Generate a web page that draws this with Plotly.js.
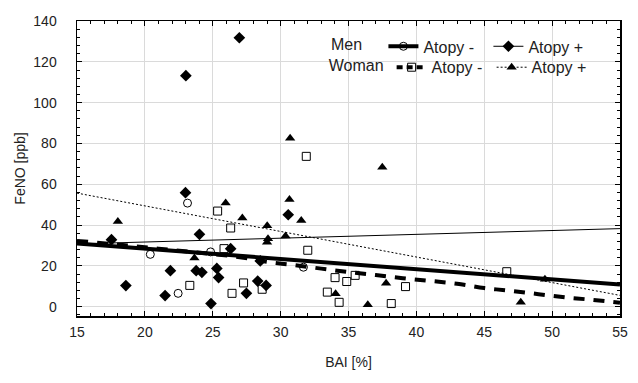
<!DOCTYPE html>
<html>
<head>
<meta charset="utf-8">
<script src="https://cdn.plot.ly/plotly-3.0.1.min.js"></script>
<style>html,body{margin:0;padding:0;background:#fff;}#chart{width:638px;height:383px;}</style>
</head>
<body>
<div id="chart"></div>
<script>
// Men, Atopy + (filled diamonds)
const menPlusBAI  = [26.96, 23.02, 22.99, 24.02, 17.54, 21.88, 23.78, 24.20, 18.60, 21.49, 24.87, 25.30, 25.43, 30.56, 26.32, 28.50, 28.31, 28.93, 27.48];
const menPlusFeNO = [131.8, 113.2, 55.9, 35.5, 32.9, 17.7, 17.7, 16.9, 10.4, 5.5, 1.6, 18.8, 14.3, 45.1, 28.5, 22.5, 12.6, 10.5, 6.6];
// Men, Atopy - (open circles)
const menMinusBAI  = [23.14, 20.40, 24.84, 22.45, 31.68];
const menMinusFeNO = [50.8, 25.7, 26.9, 6.6, 19.4];
// Women, Atopy - (open squares)
const womenMinusBAI  = [25.36, 26.32, 25.83, 32.00, 31.89, 23.31, 27.27, 28.64, 26.42, 34.01, 34.87, 35.49, 33.44, 34.31, 39.20, 38.15, 46.66];
const womenMinusFeNO = [46.9, 38.6, 28.5, 27.7, 73.7, 10.5, 11.7, 8.6, 6.6, 14.3, 12.4, 15.4, 7.2, 2.2, 9.9, 1.6, 17.2];
// Women, Atopy + (filled triangles)
const womenPlusBAI  = [18.01, 23.65, 25.95, 27.18, 30.70, 30.65, 31.52, 29.01, 29.07, 29.00, 30.36, 34.05, 37.49, 36.42, 37.77, 47.69, 49.47];
const womenPlusFeNO = [41.8, 23.9, 50.8, 43.5, 82.6, 52.6, 42.3, 39.7, 33.4, 31.6, 34.7, 6.4, 68.4, 1.0, 11.5, 2.2, 13.5];

// Fitted lines
const fitBAI = [15, 55];
const fitMenMinus = [31.0, 10.9];
const fitMenPlus = [30.8, 38.3];
const fitWomenPlus = [55.7, 5.6];
// Smoothed fit, women atopy -
const smoothWomenMinusBAI  = [15, 18, 21, 24, 27, 29, 31, 33, 35, 37, 39, 41, 43, 45, 47, 49, 51, 53, 55];
const smoothWomenMinusFeNO = [32.3, 30.5, 28.5, 26.5, 24.3, 22.0, 20.4, 18.7, 17.0, 15.6, 14.0, 12.7, 11.3, 9.2, 7.8, 6.2, 4.6, 3.4, 2.0];

const xTicks = [15, 20, 25, 30, 35, 40, 45, 50, 55];
const yTicks = [0, 20, 40, 60, 80, 100, 120, 140];

const K = '#000000';
const hide = {showlegend: false, hoverinfo: 'skip'};

const traces = [
  Object.assign({x: fitBAI, y: fitMenPlus, mode: 'lines', line: {color: K, width: 1}}, hide),
  Object.assign({x: fitBAI, y: fitWomenPlus, mode: 'lines', line: {color: K, width: 1, dash: '2px,2px'}}, hide),
  Object.assign({x: smoothWomenMinusBAI, y: smoothWomenMinusFeNO, mode: 'lines', line: {color: K, width: 4, dash: '11px,9px', shape: 'spline'}}, hide),
  Object.assign({x: fitBAI, y: fitMenMinus, mode: 'lines', line: {color: K, width: 4}}, hide),
  Object.assign({x: menPlusBAI, y: menPlusFeNO, mode: 'markers', marker: {symbol: 'diamond', size: 9, color: K}}, hide),
  Object.assign({x: menMinusBAI, y: menMinusFeNO, mode: 'markers', marker: {symbol: 'circle-open', size: 8, color: K, line: {width: 1}}}, hide),
  Object.assign({x: womenMinusBAI, y: womenMinusFeNO, mode: 'markers', marker: {symbol: 'square-open', size: 8, color: K, line: {width: 1}}}, hide),
  Object.assign({x: womenPlusBAI, y: womenPlusFeNO, mode: 'markers', marker: {symbol: 'triangle-up', size: 9, color: K}}, hide),
  // legend entries
  {x: [null], y: [null], name: 'Atopy -', legend: 'legend', mode: 'lines+markers', line: {color: K, width: 4}, marker: {symbol: 'circle-open', size: 8, color: K}},
  {x: [null], y: [null], name: 'Atopy +', legend: 'legend', mode: 'lines+markers', line: {color: K, width: 1}, marker: {symbol: 'diamond', size: 9, color: K}},
  {x: [null], y: [null], name: 'Atopy -', legend: 'legend2', mode: 'lines+markers', line: {color: K, width: 4, dash: '6px,4px'}, marker: {symbol: 'square-open', size: 8, color: K}},
  {x: [null], y: [null], name: 'Atopy +', legend: 'legend2', mode: 'lines+markers', line: {color: K, width: 1, dash: '2px,2px'}, marker: {symbol: 'triangle-up', size: 9, color: K}}
];

const FAM = '"Liberation Sans", Arial, sans-serif';
const font = {family: FAM, size: 14, color: '#222'};
const legendBase = {
  orientation: 'h', xanchor: 'left', yanchor: 'middle',
  bgcolor: 'rgba(0,0,0,0)', borderwidth: 0,
  font: {family: FAM, size: 16, color: '#222'},
  traceorder: 'normal', itemwidth: 30
};

const layout = {
  width: 638, height: 383,
  margin: {l: 77, r: 18, t: 21, b: 67},
  paper_bgcolor: '#fff', plot_bgcolor: '#fff',
  font: font,
  xaxis: {
    range: [15, 55], tickvals: xTicks, ticktext: xTicks.map(String),
    showgrid: true, gridcolor: '#dadada', gridwidth: 1,
    showline: true, linecolor: K, linewidth: 1.5, mirror: 'allticks',
    ticks: 'inside', ticklen: 5, tickcolor: K, ticklabelstandoff: 3,
    minor: {dtick: 1, ticks: 'inside', ticklen: 3, tickcolor: K, showgrid: false},
    zeroline: false,
    title: {text: 'BAI [%]', font: {family: FAM, size: 14, color: '#222'}, standoff: 18}
  },
  yaxis: {
    range: [-4.5, 140], tickvals: yTicks, ticktext: yTicks.map(String),
    showgrid: true, gridcolor: '#dadada', gridwidth: 1,
    showline: true, linecolor: K, linewidth: 1.5, mirror: 'allticks',
    ticks: 'inside', ticklen: 5, tickcolor: K, ticklabelstandoff: 16,
    minor: {dtick: 4, ticks: 'inside', ticklen: 3, tickcolor: K, showgrid: false},
    zeroline: false,
    title: {text: 'FeNO [ppb]', font: {family: FAM, size: 14, color: '#222'}, standoff: 4}
  },
  legend: Object.assign({}, legendBase, {x: 0.464, y: 0.914, title: {text: 'Men\u00a0\u00a0\u00a0', side: 'left', font: {family: FAM, size: 16, color: '#222'}}, entrywidth: 60}),
  legend2: Object.assign({}, legendBase, {x: 0.46, y: 0.843, title: {text: 'Woman', side: 'left', font: {family: FAM, size: 16, color: '#222'}}, entrywidth: 55}),
  showlegend: true
};

Plotly.newPlot('chart', traces, layout, {displayModeBar: false, staticPlot: true});
</script>
</body>
</html>
